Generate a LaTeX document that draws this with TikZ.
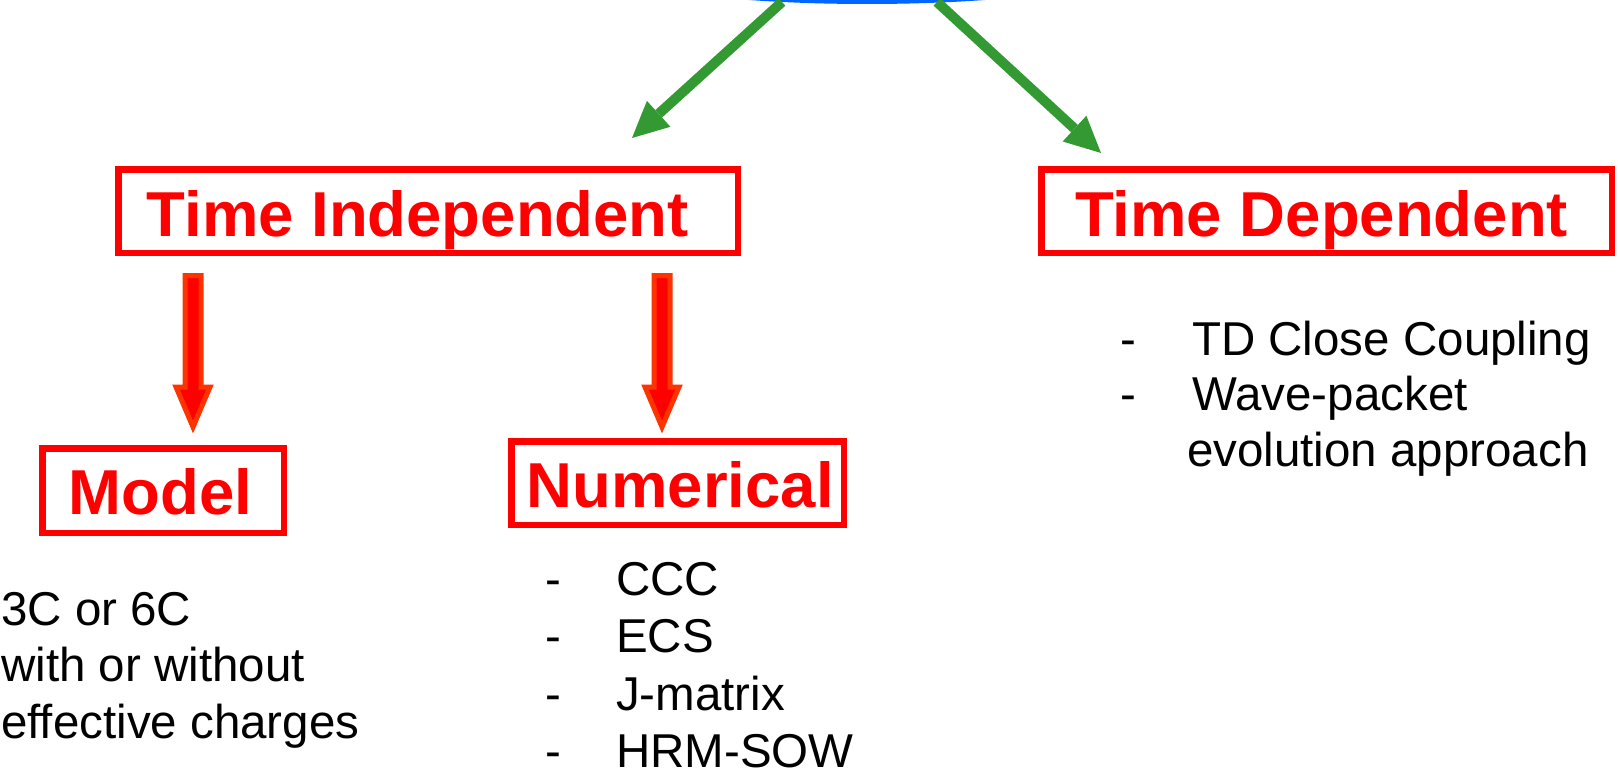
\documentclass[tikz,border=0pt]{standalone}
\usepackage{fontspec}
\setmainfont{Liberation Sans}
\usetikzlibrary{arrows.meta,calc,shapes.geometric}
\definecolor{boxred}{RGB}{255,0,0}
\definecolor{arrorange}{RGB}{255,51,0}
\definecolor{arrgreen}{RGB}{51,153,51}
\definecolor{ellblue}{RGB}{0,102,255}
\begin{document}
\begin{tikzpicture}[x=1pt,y=-1pt,
  redbox/.style={draw=boxred, line width=6.5pt, rectangle, inner sep=0pt},
  boxlabel/.style={text=boxred, font=\fontsize{63.5}{76}\selectfont\bfseries, anchor=base west, inner sep=0pt},
  bodytext/.style={font=\fontsize{47.5}{57}\selectfont, anchor=base west, inner sep=0pt},
  greenarrow/.style={draw=arrgreen, line width=10pt, -{Triangle[width=35pt,length=36pt,line width=0pt]}},
  blockarrow/.style={draw=arrorange, fill=boxred, line width=5pt, line join=miter},
]
\useasboundingbox (0,0) rectangle (1618,771);

% top ellipse (mostly outside the picture)
\node[ellipse, draw=ellblue, line width=4pt, minimum width=600pt, minimum height=100pt, inner sep=0pt] (root) at (867,-48) {};

% boxes
\node[redbox, minimum width=619.5pt, minimum height=83.5pt] (ti) at (428,211) {};
\node[redbox, minimum width=570.5pt, minimum height=83.5pt] (td) at (1326.5,211) {};
\node[redbox, minimum width=241.5pt, minimum height=84.5pt] (model) at (163,490.5) {};
\node[redbox, minimum width=332.5pt, minimum height=83.5pt] (num) at (677.5,483) {};

\node[boxlabel] (til) at (146.5,236) {Time Independent};
\node[boxlabel] (tdl) at (1075,236) {Time Dependent};
\node[boxlabel] (modell) at (68.5,514) {Model};
\node[boxlabel] (numl) at (526.5,507) {Numerical};

% green arrows
\coordinate (gl0) at (782,2);
\coordinate (gl1) at (632,138);
\coordinate (gr0) at (937,2);
\coordinate (gr1) at (1101,153);
\draw[greenarrow] (gl0) -- (gl1);
\draw[greenarrow] (gr0) -- (gr1);

% red block arrows
\coordinate (ra0) at (193,275.5);
\coordinate (ra1) at (193,427);
\coordinate (rb0) at (662,275.5);
\coordinate (rb1) at (662,427);
\draw[blockarrow] ($(ra0)+(-8,0)$) -- ($(ra1)+(-8,-40)$) -- ($(ra1)+(-17,-40)$) -- (ra1)
  -- ($(ra1)+(17,-40)$) -- ($(ra1)+(8,-40)$) -- ($(ra0)+(8,0)$) -- cycle;
\draw[blockarrow] ($(rb0)+(-8,0)$) -- ($(rb1)+(-8,-40)$) -- ($(rb1)+(-17,-40)$) -- (rb1)
  -- ($(rb1)+(17,-40)$) -- ($(rb1)+(8,-40)$) -- ($(rb0)+(8,0)$) -- cycle;

% model text
\node[bodytext] (m1) at (1,625) {3C or 6C};
\node[bodytext] (m2) at (1,681.5) {with or without};
\node[bodytext] (m3) at (1,738) {effective charges};

% numerical list
\node[bodytext] (nd1) at (545,595) {-};
\node[bodytext] (n1) at (616,595) {CCC};
\node[bodytext] (nd2) at (545,652.5) {-};
\node[bodytext] (n2) at (616,652.5) {ECS};
\node[bodytext] (nd3) at (545,710) {-};
\node[bodytext] (n3) at (616,710) {J-matrix};
\node[bodytext] (nd4) at (545,767.5) {-};
\node[bodytext] (n4) at (616,767.5) {HRM-SOW};

% time dependent list
\node[bodytext] (td1d) at (1120,355) {-};
\node[bodytext] (td1) at (1192,355) {TD Close Coupling};
\node[bodytext] (td2d) at (1120,410) {-};
\node[bodytext] (td2) at (1192,410) {Wave-packet};
\node[bodytext] (td3) at (1187,466) {evolution approach};
\end{tikzpicture}
\end{document}
